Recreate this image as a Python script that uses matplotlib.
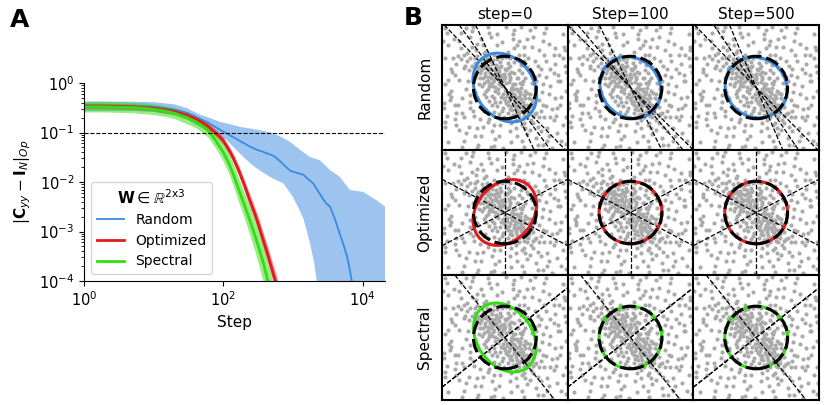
import numpy as np
import matplotlib.pyplot as plt
from matplotlib.patches import Ellipse, Circle
from matplotlib.ticker import LogLocator, NullLocator

# ── Panel A: convergence of |C_yy - I_N|_Op ──────────────────────────────────
rand_steps = [1, 3, 10, 20, 30, 46, 60, 80, 105, 130, 160, 200, 240, 300,
              350, 420, 525, 620, 700, 800, 910, 1100, 1420, 1700, 1960, 2300,
              2720, 3000, 3400, 4000, 4700, 5300, 5900, 6500, 7000, 8000]
rand_med = [0.35, 0.345, 0.33, 0.29, 0.25, 0.19, 0.16, 0.125, 0.10, 0.085,
            0.072, 0.060, 0.052, 0.045, 0.042, 0.038, 0.034, 0.028, 0.024,
            0.020, 0.017, 0.0155, 0.014, 0.011, 0.0094, 0.0065, 0.0045,
            0.0037, 0.0032, 0.0018, 9e-4, 5.5e-4, 3.4e-4, 1.8e-4, 1.0e-4, 5e-5]

rand_up_steps = [1, 5, 10, 20, 30, 46, 65, 90, 130, 173, 250, 336, 470, 650,
                 905, 1260, 1750, 2440, 3400, 4720, 6570, 10200, 15800, 21000]
rand_hi = [0.42, 0.42, 0.41, 0.37, 0.31, 0.23, 0.195, 0.164, 0.145, 0.13,
           0.12, 0.111, 0.10, 0.084, 0.065, 0.045, 0.032, 0.0276, 0.0175,
           0.0127, 0.0069, 0.0063, 0.0043, 0.0032]
rand_low_steps = [1, 5, 10, 20, 30, 46, 65, 90, 112, 150, 195, 260, 336, 500,
                  730, 1000, 1200, 1420, 1750, 2000, 2200, 2400, 21000]
rand_lo = [0.27, 0.27, 0.26, 0.22, 0.18, 0.13, 0.10, 0.082, 0.07, 0.046,
           0.032, 0.022, 0.017, 0.012, 0.0094, 0.005, 0.003, 0.0018, 6e-4,
           2.5e-4, 1e-4, 1e-5, 1e-5]

opt_steps = [1, 2, 3, 5, 7, 10, 15, 20, 30, 40, 50, 60, 76, 90, 100, 120,
             140, 170, 200, 240, 280, 330, 373, 420, 480, 560, 650]
opt_med = [0.34, 0.34, 0.335, 0.33, 0.32, 0.31, 0.285, 0.265, 0.225, 0.19,
           0.16, 0.135, 0.10, 0.08, 0.068, 0.045, 0.030, 0.016, 0.0088,
           0.0043, 0.0024, 0.0012, 6.8e-4, 4e-4, 2.1e-4, 1e-4, 4.5e-5]
opt_hi = [0.39, 0.39, 0.385, 0.38, 0.37, 0.355, 0.33, 0.305, 0.26, 0.22,
          0.185, 0.157, 0.118, 0.095, 0.081, 0.054, 0.037, 0.02, 0.0112,
          0.0057, 0.0032, 0.0017, 9.6e-4, 5.8e-4, 3.1e-4, 1.5e-4, 7e-5]
opt_lo = [0.30, 0.30, 0.295, 0.29, 0.28, 0.27, 0.245, 0.23, 0.195, 0.164,
          0.138, 0.116, 0.085, 0.067, 0.057, 0.037, 0.024, 0.0125, 0.0068,
          0.0032, 0.0018, 8.6e-4, 4.8e-4, 2.8e-4, 1.4e-4, 6.5e-5, 3e-5]

spec_steps = [1, 2, 3, 5, 7, 10, 15, 20, 30, 40, 50, 60, 64, 76, 90, 100,
              120, 140, 170, 200, 240, 280, 330, 380, 437, 500]
spec_med = [0.33, 0.33, 0.325, 0.32, 0.31, 0.295, 0.27, 0.245, 0.20, 0.165,
            0.135, 0.11, 0.10, 0.072, 0.05, 0.040, 0.024, 0.014, 0.0065,
            0.0035, 0.0017, 9e-4, 4.3e-4, 2.2e-4, 1e-4, 4.5e-5]
spec_hi = [0.43, 0.43, 0.42, 0.41, 0.40, 0.38, 0.35, 0.32, 0.265, 0.22,
           0.18, 0.15, 0.137, 0.102, 0.073, 0.060, 0.037, 0.023, 0.011,
           0.0062, 0.0032, 0.0018, 9e-4, 4.8e-4, 2.3e-4, 1.1e-4]
spec_lo = [0.26, 0.26, 0.255, 0.25, 0.24, 0.23, 0.21, 0.19, 0.15, 0.125,
           0.10, 0.08, 0.072, 0.050, 0.034, 0.026, 0.015, 0.0082, 0.0036,
           0.0019, 8.5e-4, 4.3e-4, 1.9e-4, 9e-5, 4e-5, 1.8e-5]

# ── Panel B: input cloud (estimated from the scatter), W directions, ellipses ─
pts_x = [-0.12, 0.21, -0.35, 0.44, -0.58, 0.05, 0.31, -0.22, 0.62, -0.70,
         0.13, -0.41, 0.38, -0.05, 0.72, -0.63, 0.18, -0.28, 0.51, -0.15,
         0.02, -0.48, 0.85, 0.26, -0.82, 0.09, -0.33, 0.58, -0.92, 0.47,
         -0.19, 0.33, -0.55, 0.67, -0.07, 0.12, -0.74, 0.90, -0.38, 0.24,
         -0.10, 0.15, -0.60, 0.55, -0.26, 0.41, -0.45, 0.03, -0.85, 0.78,
         0.36, -0.30, 0.08, -0.52, 0.63, -0.16, 0.20, -0.68, 0.95, -0.95,
         0.49, -0.40, -0.02, 0.30, -0.25, 0.70, -0.78, 0.11, 0.57, -0.12,
         0.42, -0.50, 0.28, -0.36, 0.19, -0.88, 0.82, -0.04, 0.05, -0.64,
         0.65, -0.20, 0.35, -0.55, 0.00, 0.52, -0.30, 0.14, -0.72, 0.44,
         1.10, -1.15, 1.25, -1.30, 0.95, -0.85, 1.40, -1.45, 0.60, -0.65,
         0.30, -0.35, 1.05, -1.05, 0.15, -0.10, 1.20, -1.25, 0.80, -0.90,
         1.50, -1.55, 0.45, -0.50, 1.05, -1.00, 0.70, -0.75, 1.35, -1.40,
         0.25, -0.20, 1.60, -1.60, 0.95, -1.00, 0.55, -0.60, 1.15, -1.20,
         0.85, -1.10, 0.40, -0.45, 1.55, -1.50, 0.75, -0.80, 1.30, -1.35,
         0.10, -0.15, 1.00, -1.10, 1.45, -1.30, 0.62, -0.70, 1.18, -0.95,
         0.90, -0.25, 0.35, 1.62, -1.65, 0.50, -0.55, 1.22, -1.18, 0.20,
         1.85, -1.80, 1.70, -1.75, 0.90, -0.95, 1.95, -1.90, 0.30, -0.35,
         1.55, -1.60, 1.80, -1.85, 1.20, -1.25, 1.90, -1.95, 0.60, -0.55,
         1.40, -1.45, 1.98, -1.98, 1.75, -1.70, 1.10, -1.15, 1.65, -1.62,
         0.05, -0.05, 1.88, -1.90, 1.35, -1.40, 1.60, -1.55, 0.80, -0.85,
         1.95, -1.92, 1.25, -1.30, 1.72, -1.78, 2.00, -1.05, 1.50, 0.45,
         -0.08, 0.16, -0.44, 0.29, -0.31, 0.47, -0.62, 0.07, -0.18, 0.39,
         -0.53, 0.58, -0.02, 0.23, -0.76, 0.76, -0.37, 0.11, -0.27, 0.34,
         -0.66, 0.60, -0.13, 0.45, -0.47, 0.02, -0.90, 0.88, -0.21, 0.25,
         -0.58, 0.62, -0.05, 0.17, -0.40, 0.50, -0.80, 0.80, -0.15, 0.10,
         -0.33, 0.37, -0.70, 0.70, -0.10, 0.05, -0.48, 0.52, -0.95, 0.95,
         -0.25, 0.30, -0.60, 0.42, -0.02, 0.00, -0.35, 0.35, -1.05, 1.00,
         -0.20, 0.22, -0.52, 0.48, -0.12, 0.15, -0.78, 0.75, -0.42, 0.40,
         -0.65, 0.60, -1.10, 1.10, 0.28, -0.30, 0.65, -0.65, 0.15, -0.18,
         1.30, -1.28, 0.90, -0.92, 1.65, -1.68, 0.55, -0.50, 1.42, -1.45,
         1.10, -1.10, 0.40, -0.40, 1.80, -1.82, 0.20, -0.25, 1.25, -1.30,
         1.75, -1.70, 1.05, -1.00, 0.70, -0.75, 1.55, -1.60, 1.95, -1.90,
         0.95, -0.90, 1.85, -1.85, 1.45, -1.40, 0.65, -0.70, 1.15, -1.20,
         0.45, -0.50, 0.70, -0.62, 0.30, -0.35, 0.85, -0.88, 0.20, -0.25,
         0.95, -0.98, 0.60, -0.55, 1.15, -1.12, 0.40, -0.42, 0.75, -0.80,
         1.30, -1.35, 0.15, -0.10, 1.00, -0.95, 0.55, -0.60, 1.45, -1.50,
         0.25, -0.30, 1.70, -1.72, 1.20, -1.25, 0.85, -0.90, 1.60, -1.55,
         1.85, -1.80, 0.50, -0.45, 1.95, -1.95, 1.30, -1.35, 1.90, -1.92]
pts_y = [0.08, -0.15, 0.41, -0.30, 0.22, 0.55, 0.12, -0.18, -0.55, 0.64,
         -0.42, 0.05, -0.71, 0.31, -0.18, 0.48, 0.27, 0.72, -0.02, -0.46,
         -0.08, 0.85, -0.48, -0.88, 0.12, 0.78, -0.35, 0.22, 0.41, -0.49,
         0.52, -0.26, -0.05, -0.78, -0.65, 0.44, 0.90, -0.62, 0.18, 0.03,
         0.95, -0.98, -0.30, 0.48, 0.36, -0.12, 0.60, 0.14, 0.65, -0.35,
         -0.55, 0.02, -0.28, 0.35, -0.33, 0.65, -0.60, 0.30, -0.85, 0.78,
         0.15, -0.55, 0.42, -0.40, 0.90, -0.95, 0.45, 0.62, -0.66, -0.30,
         0.32, 0.05, -0.20, 0.55, -0.05, 1.02, -1.05, -0.95, 0.98, 0.72,
         -0.10, 0.20, -0.85, 0.55, -0.40, -0.38, -0.10, 0.18, 0.05, -0.95,
         -0.40, 0.55, -0.95, 1.05, 0.35, -0.40, -0.20, 0.25, 0.85, -0.75,
         1.25, -1.20, -1.25, 1.30, -1.40, 1.45, 0.10, -0.05, -1.35, 1.40,
         -0.70, 0.75, 1.05, -1.00, 0.70, -0.75, -1.50, 1.55, -1.30, 1.25,
         1.55, -1.55, -0.35, 0.40, -0.05, 0.30, -1.20, 1.18, -0.75, 0.85,
         0.15, -0.25, -1.55, 1.60, -1.05, 1.00, 0.60, -0.60, 0.35, -0.35,
         1.15, -1.20, -1.60, 1.62, 0.05, 0.62, 1.30, -1.25, -0.15, 0.95,
         -0.90, 1.35, -1.30, -0.90, 0.95, 0.72, -0.82, -0.55, 0.20, -1.15,
         -1.20, 1.35, 0.40, -0.40, 1.60, -1.55, -0.10, 0.10, 1.85, -1.88,
         1.05, -1.00, -1.70, 1.75, -1.85, 1.90, 0.70, -0.65, -1.90, 1.92,
         1.40, -1.35, -1.45, 1.50, -0.55, 0.60, 1.20, -1.25, -1.45, 1.55,
         1.95, -1.95, 1.30, -1.25, -1.70, 1.75, 0.75, -0.80, 1.85, -1.85,
         -0.95, 0.95, 1.75, -1.70, 1.05, -0.20, 0.30, 1.80, -1.95, 1.50,
         0.22, -0.33, 0.30, -0.51, 0.58, -0.22, 0.38, -0.18, 0.11, -0.04,
         0.70, -0.47, 0.26, -0.72, 0.55, -0.70, 0.88, -0.55, 0.46, -0.63,
         0.15, -0.25, 0.40, -0.80, 0.12, 0.60, 0.58, -0.40, -0.05, 0.10,
         0.95, -0.90, -0.20, 0.35, 0.75, -0.60, 0.30, -0.20, 0.80, -0.80,
         0.25, -0.35, 0.80, -0.55, 0.05, -0.50, 0.48, -0.75, 0.30, -0.30,
         0.62, -0.05, 0.62, -0.45, -0.35, 0.35, 1.05, -1.05, 0.70, -0.80,
         0.30, -0.25, 0.20, -0.15, 0.70, -0.70, 0.70, -0.80, 0.40, -0.50,
         1.10, -1.15, 0.95, -0.95, 0.45, -0.45, 0.30, -0.20, 0.95, -0.85,
         -0.60, 0.70, -1.15, 1.20, -0.65, 0.50, -1.70, 1.75, -1.55, 1.50,
         0.40, -0.45, 1.35, -1.40, -0.30, 0.25, -1.75, 1.70, 1.05, -0.95,
         0.20, -0.10, -1.85, 1.95, 1.55, -1.55, 0.45, -0.55, -1.80, 1.90,
         1.95, -1.95, 0.95, -0.90, -0.95, 0.90, -1.30, 1.35, -1.40, 1.10,
         0.55, -0.42, 0.65, -0.70, 0.80, -0.78, 0.40, -0.35, 0.50, -0.60,
         0.85, -0.90, 1.05, -1.10, 0.60, -0.65, 0.30, -0.28, 0.95, -1.00,
         0.85, -0.80, 0.70, -0.75, 0.20, -0.15, 0.10, -0.12, 0.60, -0.55,
         1.70, -1.65, 0.20, -0.30, 1.50, -1.45, 1.30, -1.30, 1.25, -1.20,
         1.70, -1.75, 1.95, -1.90, 0.50, -0.50, 1.90, -1.90, 1.20, -1.10]

row_names = ["Random", "Optimized", "Spectral"]
col_titles = ["step=0", "Step=100", "Step=500"]
row_colors = ["#3a8be0", "#e41a1c", "#33dd11"]

# directions of the columns of W (degrees), per row and per step
w_angles = [
    [[-46, -54, -65], [-45, -50, -63.5], [-45.5, -56, -67]],
    [[90, 28, -28], [90, 28, -28], [90, 28, -28]],
    [[-51.5, 38.5, 38.5], [-51.5, 38.5, 38.5], [-51.5, 38.5, 38.5]],
]
# output covariance ellipse: semi-axis a, semi-axis b, angle (deg)
ell_a = [[1.18, 1.04, 1.02], [1.15, 1.0, 1.0], [1.20, 1.0, 1.0]]
ell_b = [[0.92, 0.92, 0.94], [0.90, 1.0, 1.0], [0.88, 1.0, 1.0]]
ell_ang = [[-55, -50, -40], [50, 0, 0], [-55, 0, 0]]

# ── Figure ────────────────────────────────────────────────────────────────────
W, H = 830, 405
fig = plt.figure(figsize=(W / 100, H / 100), dpi=100)

axA = fig.add_axes([84 / W, 1 - 281 / H, (385 - 84) / W, (281 - 83) / H])
axA.fill(np.concatenate([rand_up_steps, rand_low_steps[::-1]]),
         np.concatenate([rand_hi, rand_lo[::-1]]),
         color=row_colors[0], alpha=0.5, lw=0)
axA.plot(rand_steps, rand_med, color=row_colors[0], lw=1.3, label="Random")
axA.fill_between(opt_steps, opt_lo, opt_hi, color=row_colors[1],
                 alpha=0.5, lw=0)
axA.plot(opt_steps, opt_med, color=row_colors[1], lw=2, label="Optimized")
axA.fill_between(spec_steps, spec_lo, spec_hi, color=row_colors[2],
                 alpha=0.5, lw=0)
axA.plot(spec_steps, spec_med, color=row_colors[2], lw=2, label="Spectral")
axA.axhline(0.1, color="black", ls="--", lw=0.8)

axA.set_xscale("log")
axA.set_yscale("log")
axA.set_xlim(1, 2.1e4)
axA.set_ylim(1e-4, 1)
axA.xaxis.set_major_locator(LogLocator(base=100))
axA.xaxis.set_minor_locator(NullLocator())
axA.spines["top"].set_visible(False)
axA.spines["right"].set_visible(False)
axA.tick_params(labelsize=10.5)
axA.set_xlabel("Step", fontsize=11)
axA.set_ylabel(r"$|\mathbf{C}_{yy} - \mathbf{I}_N|_{Op}$", fontsize=11)
axA.legend(loc="lower left", fontsize=10,
           title=r"$\mathbf{W} \in \mathbb{R}^{\mathrm{2x3}}$",
           title_fontsize=11)

fig.text(10 / W, 1 - 8 / H, "A", fontsize=18, fontweight="bold",
         ha="left", va="top")
fig.text(404 / W, 1 - 6 / H, "B", fontsize=18, fontweight="bold",
         ha="left", va="top")

# ── Panel B grid ──────────────────────────────────────────────────────────────
gs = fig.add_gridspec(3, 3, left=442 / W, right=819 / W,
                      top=1 - 25 / H, bottom=1 - 400 / H,
                      wspace=0, hspace=0)
for r in range(3):
    for c in range(3):
        ax = fig.add_subplot(gs[r, c])
        ax.scatter(pts_x, pts_y, s=9, color="#aaaaaa", lw=0, zorder=1)
        for ang in w_angles[r][c]:
            t = np.deg2rad(ang)
            ax.axline((0, 0), (np.cos(t), np.sin(t)), color="black",
                      ls="--", lw=0.9, zorder=2)
        ax.add_patch(Ellipse((0, 0), 2 * ell_a[r][c], 2 * ell_b[r][c],
                             angle=ell_ang[r][c], fill=False,
                             ec=row_colors[r], lw=2.2, zorder=3))
        ax.add_patch(Circle((0, 0), 1, fill=False, ec="black", lw=2.2,
                            ls=(0, (4.5, 1.6)), zorder=4))
        ax.set_xlim(-2, 2)
        ax.set_ylim(-2, 2)
        ax.set_xticks([])
        ax.set_yticks([])
        for sp in ax.spines.values():
            sp.set_linewidth(1.5)
        if r == 0:
            ax.set_title(col_titles[c], fontsize=11, pad=4)
        if c == 0:
            ax.set_ylabel(row_names[r], fontsize=11, labelpad=7)

fig.savefig("out.png", dpi=100)
